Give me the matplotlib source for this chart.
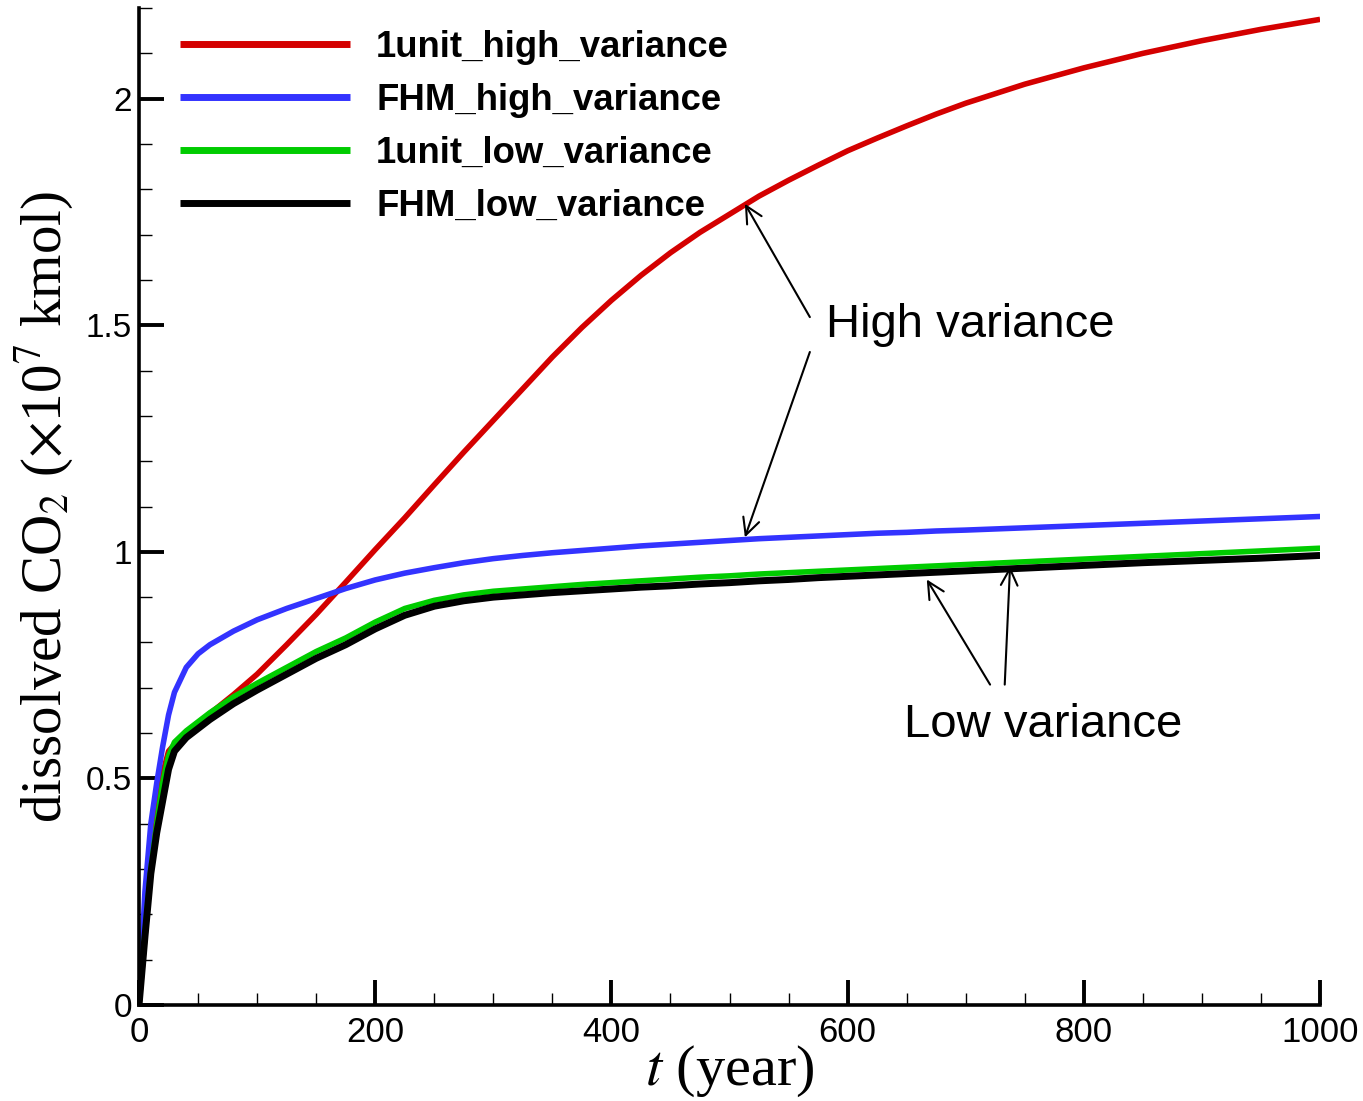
import matplotlib
matplotlib.use("Agg")
import matplotlib.pyplot as plt
from matplotlib.ticker import MultipleLocator

plt.rcParams['font.family'] = ['Liberation Sans', 'DejaVu Sans']
plt.rcParams['mathtext.fontset'] = 'stix'

# ---- data ----
t = [0, 5, 10, 15, 20, 25, 30, 40, 50, 60, 80, 100, 125, 150, 175, 200, 225, 250,
     275, 300, 325, 350, 375, 400, 425, 450, 475, 500, 525, 550, 575, 600, 625, 650,
     675, 700, 750, 800, 850, 900, 950, 1000]

unit1_high = [0, 0.15, 0.30, 0.42, 0.51, 0.56, 0.575, 0.60, 0.62, 0.643, 0.685, 0.73,
              0.795, 0.862, 0.933, 1.005, 1.075, 1.148, 1.22, 1.29, 1.36, 1.43, 1.495,
              1.555, 1.61, 1.66, 1.705, 1.745, 1.785, 1.82, 1.853, 1.885, 1.913, 1.94,
              1.966, 1.99, 2.032, 2.068, 2.10, 2.128, 2.153, 2.175]
fhm_high = [0, 0.25, 0.40, 0.49, 0.57, 0.64, 0.69, 0.745, 0.775, 0.795, 0.825, 0.85,
            0.875, 0.897, 0.919, 0.938, 0.953, 0.965, 0.976, 0.985, 0.992, 0.998, 1.003,
            1.008, 1.013, 1.017, 1.021, 1.025, 1.029, 1.032, 1.035, 1.038, 1.041, 1.043,
            1.046, 1.048, 1.053, 1.058, 1.063, 1.068, 1.073, 1.078]
unit1_low = [0, 0.16, 0.30, 0.40, 0.49, 0.55, 0.58, 0.605, 0.625, 0.645, 0.68, 0.71,
             0.745, 0.78, 0.81, 0.845, 0.875, 0.893, 0.905, 0.913, 0.918, 0.923, 0.928,
             0.932, 0.936, 0.94, 0.944, 0.947, 0.951, 0.954, 0.957, 0.96, 0.963, 0.966,
             0.969, 0.972, 0.978, 0.984, 0.99, 0.996, 1.002, 1.008]
fhm_low = [0, 0.15, 0.29, 0.38, 0.45, 0.52, 0.56, 0.59, 0.61, 0.63, 0.665, 0.695,
           0.73, 0.765, 0.795, 0.83, 0.86, 0.88, 0.892, 0.90, 0.905, 0.91, 0.914,
           0.918, 0.922, 0.925, 0.929, 0.932, 0.936, 0.939, 0.943, 0.946, 0.949, 0.952,
           0.955, 0.958, 0.964, 0.970, 0.976, 0.981, 0.986, 0.992]

labels = ['1unit_high_variance', 'FHM_high_variance', '1unit_low_variance', 'FHM_low_variance']
colors = ['#D40000', '#3333FF', '#00CC00', '#000000']

# ---- figure ----
fig = plt.figure(figsize=(13.63, 11.01), dpi=100)
ax = fig.add_axes([0.102, 0.0872, 0.8665, 0.9055])

series = [unit1_high, fhm_high, unit1_low, fhm_low]
widths = [4.0, 4.0, 4.0, 5.0]
for s, lab, c, w in zip(series, labels, colors, widths):
    ax.plot(t, s, color=c, lw=w, label=lab, solid_capstyle='butt', solid_joinstyle='round')

ax.set_xlim(0, 1000)
ax.set_ylim(0, 2.2)
ax.xaxis.set_major_locator(MultipleLocator(200))
ax.xaxis.set_minor_locator(MultipleLocator(50))
ax.yaxis.set_major_locator(MultipleLocator(0.5))
ax.yaxis.set_minor_locator(MultipleLocator(0.1))
ax.set_yticks([0, 0.5, 1, 1.5, 2])
ax.set_yticklabels(['0', '0.5', '1', '1.5', '2'])

for sp in ['top', 'right']:
    ax.spines[sp].set_visible(False)
for sp in ['left', 'bottom']:
    ax.spines[sp].set_linewidth(2.6)

ax.tick_params(which='major', direction='in', length=18, width=2.8)
ax.tick_params(which='minor', direction='in', length=9, width=1.0)
ax.tick_params(axis='x', which='major', labelsize=25, pad=8)
ax.tick_params(axis='y', which='major', labelsize=24, pad=5)

ax.set_xlabel(r'$t$ (year)', fontsize=42, family='Liberation Serif', labelpad=-4)
ax.set_ylabel(r'dissolved CO$_2$ ($\times$10$^7$ kmol)', fontsize=41,
              family='Liberation Serif', labelpad=8)

leg = ax.legend(loc='upper left', bbox_to_anchor=(180 / 1363, 1 - 30 / 1101),
                bbox_transform=fig.transFigure, frameon=False,
                prop={'family': 'Liberation Sans', 'weight': 'bold', 'size': 26.3},
                handlelength=4.65, handletextpad=0.72, labelspacing=0.49, borderpad=0,
                borderaxespad=0)
for line in leg.get_lines():
    line.set_linewidth(5)

arrow_kw = dict(arrowstyle='->', lw=1.5, color='black',
                mutation_scale=30, shrinkA=0, shrinkB=0)

ax.text(582, 1.50, 'High variance', fontsize=34, va='center', ha='left')
ax.annotate('', xy=(513, 1.768), xytext=(568, 1.518), arrowprops=arrow_kw)
ax.annotate('', xy=(513, 1.032), xytext=(568, 1.441), arrowprops=arrow_kw)

ax.text(648, 0.617, 'Low variance', fontsize=34, va='center', ha='left')
ax.annotate('', xy=(667, 0.939), xytext=(720.6, 0.707), arrowprops=arrow_kw)
ax.annotate('', xy=(737.5, 0.968), xytext=(733, 0.707), arrowprops=arrow_kw)

fig.savefig('out.png', dpi=100)
